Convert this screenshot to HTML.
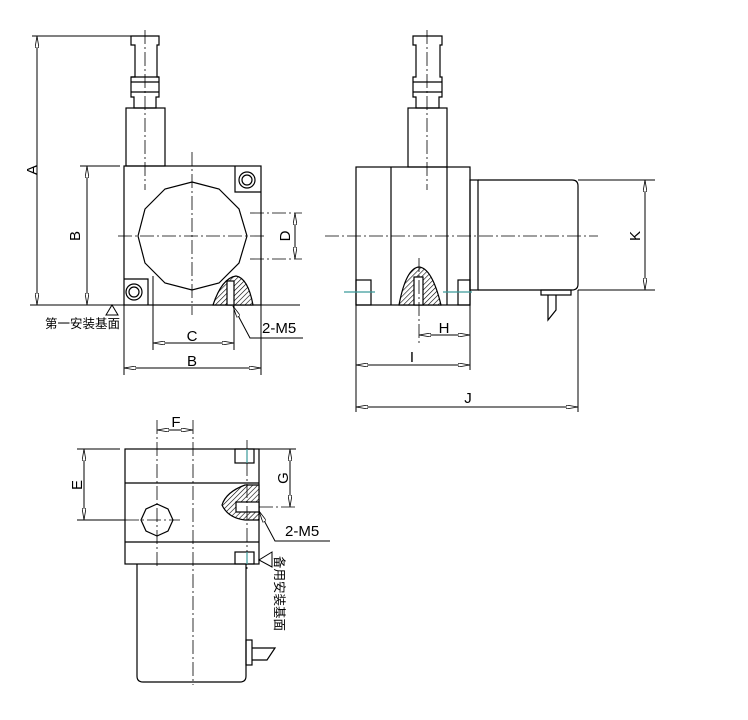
<!DOCTYPE html>
<html><head><meta charset="utf-8"><style>
html,body{margin:0;padding:0;background:#fff}
svg{display:block}
text{font-family:"Liberation Sans","Noto Sans CJK SC",sans-serif;fill:#000}
</style></head><body>
<svg width="748" height="720" viewBox="0 0 748 720" xmlns="http://www.w3.org/2000/svg">
<defs>
<marker id="a" viewBox="0 0 12 4" refX="12" refY="2" markerWidth="12" markerHeight="4" markerUnits="userSpaceOnUse" orient="auto-start-reverse"><path d="M0,0 L12,2 L0,4 Z" fill="#fff" stroke="#000" stroke-width="0.8"/></marker>
<pattern id="h" width="3.5" height="3.5" patternUnits="userSpaceOnUse" patternTransform="rotate(45)"><rect width="3.5" height="3.5" fill="#fff"/><line x1="0" y1="0" x2="0" y2="3.5" stroke="#000" stroke-width="1.2"/></pattern>
</defs>
<g stroke="#000" stroke-width="1.2" fill="none">
<!-- FRONT VIEW -->
<path d="M131,36 H159 V45 H157 V77 H159 V97 H156 V108 H134 V97 H131 V77 H135 V45 H131 Z"/>
<line x1="131" y1="77" x2="159" y2="77"/><line x1="131" y1="82" x2="159" y2="82"/><line x1="131" y1="92" x2="159" y2="92"/>
<rect x="126" y="108" width="39" height="58"/>
<rect x="124" y="166" width="137" height="139"/>
<polygon points="192,182 219,189 239,209 247,236 239,263 219,283 192,290 165,283 145,263 138,236 145,209 165,189"/>
<path d="M235,166 V192 H261"/><circle cx="247" cy="180" r="8"/><circle cx="247" cy="180" r="5"/>
<path d="M124,279 H148 V305"/><circle cx="134" cy="292" r="8"/><circle cx="134" cy="292" r="5"/>
<path d="M213,305 Q222,278 236,276 Q248,278 253,305 Z" fill="url(#h)"/>
<rect x="227" y="281" width="7" height="24" fill="#fff"/>
<g stroke-dasharray="14,3,2,3" stroke-width="0.8">
<line x1="145" y1="30" x2="145" y2="190"/><line x1="192" y1="152" x2="192" y2="315"/>
<line x1="118" y1="236" x2="265" y2="236"/>
<line x1="250" y1="213" x2="302" y2="213"/><line x1="250" y1="259" x2="302" y2="259"/>
</g>
<line x1="32" y1="36" x2="135" y2="36" stroke-width="1"/>
<line x1="30" y1="305" x2="124" y2="305" stroke-width="1"/><line x1="261" y1="305" x2="300" y2="305" stroke-width="1"/>
<line x1="80" y1="166" x2="120" y2="166" stroke-width="1"/>
<line x1="37" y1="36" x2="37" y2="305" marker-start="url(#a)" marker-end="url(#a)" stroke-width="1"/>
<line x1="87" y1="166" x2="87" y2="305" marker-start="url(#a)" marker-end="url(#a)" stroke-width="1"/>
<line x1="295" y1="213" x2="295" y2="259" marker-start="url(#a)" marker-end="url(#a)" stroke-width="1"/>
<path d="M106,315 L112,305 L118,315 Z" stroke-width="1"/>
<line x1="153" y1="276" x2="153" y2="350" stroke-width="1"/><line x1="234" y1="305" x2="234" y2="350" stroke-width="1"/>
<line x1="153" y1="343" x2="234" y2="343" marker-start="url(#a)" marker-end="url(#a)" stroke-width="1"/>
<line x1="124" y1="305" x2="124" y2="375" stroke-width="1"/><line x1="261" y1="305" x2="261" y2="375" stroke-width="1"/>
<line x1="124" y1="368" x2="261" y2="368" marker-start="url(#a)" marker-end="url(#a)" stroke-width="1"/>
<path d="M303,338 H250 L233,306" marker-end="url(#a)" stroke-width="1"/>

<!-- SIDE VIEW -->
<path d="M413,36 H442 V45 H440 V77 H442 V97 H439 V108 H416 V97 H413 V77 H416 V45 H413 Z"/>
<line x1="413" y1="82" x2="442" y2="82"/><line x1="413" y1="92" x2="442" y2="92"/>
<rect x="408" y="108" width="39" height="59"/>
<rect x="356" y="167" width="114" height="138"/>
<line x1="391" y1="167" x2="391" y2="305"/><line x1="447" y1="167" x2="447" y2="305"/>
<rect x="470" y="180" width="8" height="110"/>
<path d="M478,180 H572 Q578,180 578,186 V284 Q578,290 572,290 H478"/>
<rect x="541" y="290" width="30" height="5"/>
<path d="M548,295 V320 L556,310 V295"/>
<rect x="356" y="280" width="15" height="25"/><rect x="458" y="280" width="12" height="25"/>
<path d="M399,305 Q406,268 419,267 Q432,268 441,305 Z" fill="url(#h)"/>
<rect x="414" y="277" width="9" height="28" fill="#fff"/>
<g stroke-dasharray="14,3,2,3" stroke-width="0.8">
<line x1="427" y1="30" x2="427" y2="190"/>
<line x1="325" y1="236" x2="598" y2="236"/>
<line x1="419" y1="258" x2="419" y2="345"/>
</g>
<line x1="344" y1="292" x2="375" y2="292" stroke="#3a9a9a"/><line x1="443" y1="292" x2="472" y2="292" stroke="#3a9a9a"/>
<g stroke-width="1">
<line x1="578" y1="180" x2="655" y2="180"/><line x1="578" y1="290" x2="655" y2="290"/>
<line x1="645" y1="180" x2="645" y2="290" marker-start="url(#a)" marker-end="url(#a)"/>
<line x1="356" y1="305" x2="356" y2="412"/><line x1="470" y1="305" x2="470" y2="370"/><line x1="578" y1="290" x2="578" y2="412"/>
<line x1="419" y1="335" x2="470" y2="335" marker-start="url(#a)" marker-end="url(#a)"/>
<line x1="356" y1="365" x2="470" y2="365" marker-start="url(#a)" marker-end="url(#a)"/>
<line x1="356" y1="407" x2="578" y2="407" marker-start="url(#a)" marker-end="url(#a)"/>
</g>

<!-- BOTTOM VIEW -->
<rect x="125" y="449" width="134" height="115"/>
<line x1="125" y1="483" x2="259" y2="483"/><line x1="125" y1="542" x2="259" y2="542"/>
<path d="M137,564 V676 Q137,682 143,682 H240 Q246,682 246,676 V564"/>
<rect x="235" y="449" width="19" height="14"/><rect x="235" y="552" width="19" height="12"/>
<polygon points="157,504 168,509 173,520 168,531 157,536 146,531 141,520 146,509"/>
<path d="M259,485 H245 Q226,492 222,505 Q228,518 245,520 H259 Z" fill="url(#h)"/>
<rect x="236" y="502" width="23" height="10" fill="#fff"/>
<rect x="246" y="640" width="6" height="25"/>
<path d="M252,648 H275 L267,660 H252"/>
<g stroke-dasharray="14,3,2,3" stroke-width="0.8">
<line x1="157" y1="420" x2="157" y2="567"/>
<line x1="193" y1="420" x2="193" y2="685"/>
<line x1="125" y1="520" x2="180" y2="520"/>
<line x1="259" y1="507" x2="296" y2="507"/>
<line x1="247" y1="440" x2="247" y2="570"/>
</g>
<line x1="247" y1="449" x2="247" y2="463" stroke="#3a9a9a"/><line x1="247" y1="552" x2="247" y2="564" stroke="#3a9a9a"/>
<g stroke-width="1">
<line x1="77" y1="449" x2="120" y2="449"/><line x1="77" y1="520" x2="125" y2="520"/>
<line x1="84" y1="449" x2="84" y2="520" marker-start="url(#a)" marker-end="url(#a)"/>
<line x1="157" y1="430" x2="193" y2="430" marker-start="url(#a)" marker-end="url(#a)"/>
<line x1="259" y1="449" x2="296" y2="449"/>
<line x1="290" y1="449" x2="290" y2="507" marker-start="url(#a)" marker-end="url(#a)"/>
<path d="M330,541 H275 L259,511" marker-end="url(#a)"/>
<path d="M272,552 L259,560 L272,567 Z"/>
</g>
</g>
<g font-size="15">
<text x="0" y="0" transform="translate(37,170) rotate(-90)" text-anchor="middle">A</text>
<text x="0" y="0" transform="translate(80,236) rotate(-90)" text-anchor="middle">B</text>
<text x="0" y="0" transform="translate(290,236) rotate(-90)" text-anchor="middle">D</text>
<text x="192" y="341" text-anchor="middle">C</text>
<text x="192" y="366" text-anchor="middle">B</text>
<text x="262" y="333">2-M5</text>
<text x="0" y="0" transform="translate(640,236) rotate(-90)" text-anchor="middle">K</text>
<text x="444" y="333" text-anchor="middle">H</text>
<text x="412" y="362" text-anchor="middle">I</text>
<text x="468" y="403" text-anchor="middle">J</text>
<text x="176" y="427" text-anchor="middle">F</text>
<text x="0" y="0" transform="translate(82,485) rotate(-90)" text-anchor="middle">E</text>
<text x="0" y="0" transform="translate(288,478) rotate(-90)" text-anchor="middle">G</text>
<text x="285" y="536">2-M5</text>
</g>
<text x="45" y="328" font-size="12.5" font-family="'Noto Sans CJK SC',sans-serif">第一安装基面</text>
<text x="0" y="0" transform="translate(275,556) rotate(90)" font-size="12.5" font-family="'Noto Sans CJK SC',sans-serif">备用安装基面</text>
</svg>
</body></html>
